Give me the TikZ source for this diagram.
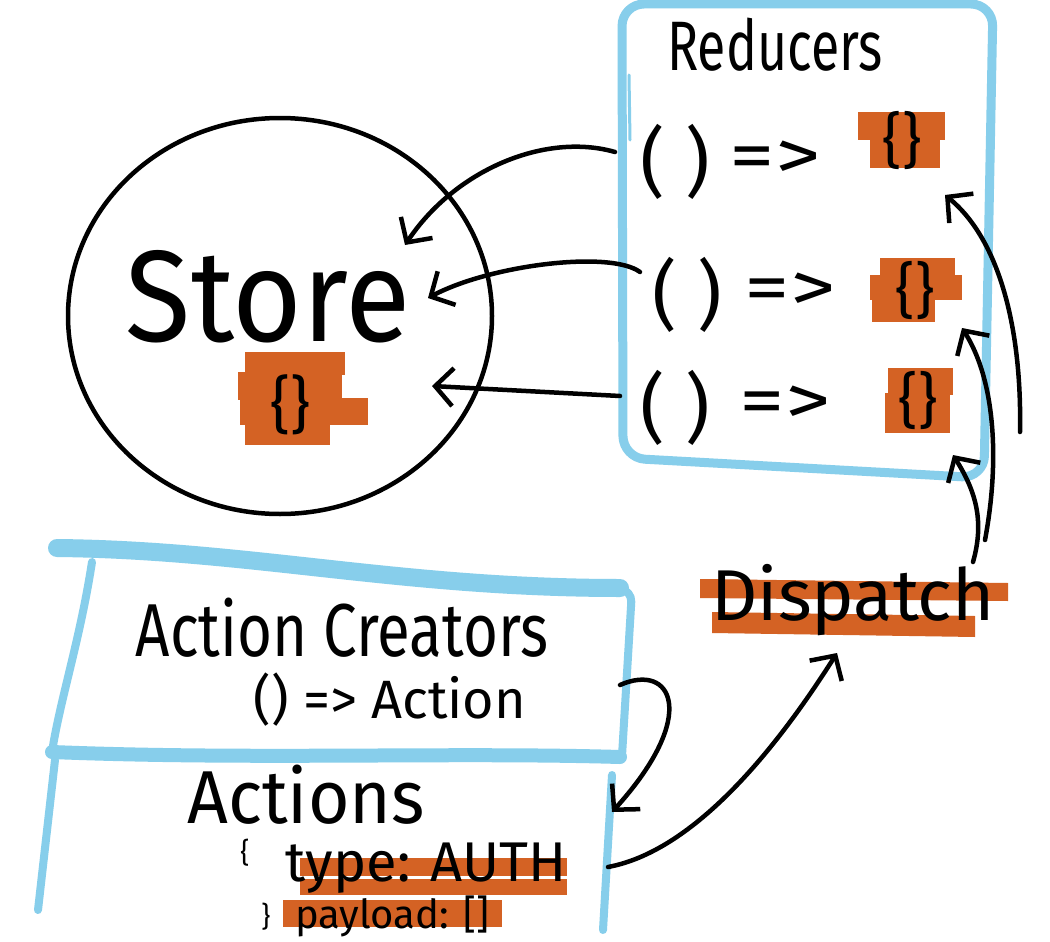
\documentclass[tikz,border=0pt]{standalone}
\usepackage{fontspec}
\setmainfont{Fira Sans}
\usetikzlibrary{arrows.meta,shapes.geometric}
\definecolor{skyb}{RGB}{135,206,235}
\definecolor{rust}{RGB}{212,98,36}
\begin{document}
\begin{tikzpicture}[x=1pt,y=-1pt,
  ink/.style={draw=black,line width=4.5pt,line cap=round,line join=round},
  arr/.style={ink,-{Straight Barb[length=18pt,width=38pt]}},
  bluel/.style={draw=skyb,line cap=round,line join=round},
  blob/.style={fill=rust},
  lbl/.style={inner sep=0pt,text=black},
  fs/.style={font=\fontsize{#1}{#1}\selectfont}
]
\useasboundingbox[fill=white] (0,0) rectangle (1050,942);

% ---------- Store ----------
\node[ellipse,draw,line width=4.5pt,minimum width=424pt,minimum height=396pt] (store) at (280,316) {};
\node[lbl,fs=130] (storetxt) at (268,297) {\scalebox{0.92}[1]{Store}};
\fill[blob] (245,352) rectangle (345,375);
\fill[blob] (238,372) rectangle (342,400);
\fill[blob] (240,398) rectangle (368,425);
\fill[blob] (245,420) rectangle (330,445);
\node[lbl,fs=62] (storeblob) at (290,405) {\{\}};

% ---------- Reducers ----------
\draw[bluel,line width=9pt,rounded corners=22pt] (622,4) -- (623,458) -- (984,478) -- (993,4) -- cycle;
\draw[bluel,line width=3pt] (629,75) -- (630,140);
\node[lbl,fs=70] (redtitle) at (775,45) {\scalebox{0.74}[1]{Reducers}};

\fill[blob] (858,112) rectangle (945,140);
\fill[blob] (870,138) rectangle (940,168);
\fill[blob] (880,258) rectangle (955,280);
\fill[blob] (870,275) rectangle (962,300);
\fill[blob] (872,298) rectangle (935,322);
\fill[blob] (888,368) rectangle (953,395);
\fill[blob] (885,393) rectangle (950,433);

\node[lbl,fs=76] (r1p) at (675,162) {( )};
\node[lbl,fs=70] (r1a) at (775,160) {\scalebox{1.3}[1]{=>}};
\node[lbl,fs=60] (r1b) at (902,140) {\{\}};
\node[lbl,fs=76] (r2p) at (687,295) {( )};
\node[lbl,fs=70] (r2a) at (790,292) {\scalebox{1.3}[1]{=>}};
\node[lbl,fs=60] (r2b) at (915,290) {\{\}};
\node[lbl,fs=76] (r3p) at (675,408) {( )};
\node[lbl,fs=70] (r3a) at (785,405) {\scalebox{1.3}[1]{=>}};
\node[lbl,fs=60] (r3b) at (918,400) {\{\}};

% ---------- Dispatch ----------
\fill[blob] (700,579) -- (1008,583) -- (1008,601) -- (700,598) -- cycle;
\fill[blob] (712,612) -- (975,616) -- (975,637) -- (712,633) -- cycle;
\node[lbl,fs=72] (disp) at (853,600) {Dispatch};

% ---------- Action Creators box ----------
\draw[bluel,line width=18pt] (57,548) .. controls (250,550) and (400,588) .. (620,588);
\draw[bluel,line width=8pt,rounded corners=12pt] (612,588) -- (632,590) -- (622,756);
\draw[bluel,line width=8pt] (92,562) .. controls (80,640) and (60,700) .. (52,752);
\draw[bluel,line width=14pt] (52,752) .. controls (250,760) and (450,752) .. (620,757);
\draw[bluel,line width=8pt] (55,760) -- (38,910);
\draw[bluel,line width=8pt] (612,775) -- (603,930);
\node[lbl,fs=75] (actcr) at (342,628) {\scalebox{0.8}[1]{Action Creators}};
\node[lbl,fs=54] (actfn) at (390,700) {() => Action};

% ---------- Actions ----------
\node[lbl,fs=75] (actions) at (306,795) {\scalebox{0.95}[1]{Actions}};
\fill[blob] (300,858) rectangle (567,876);
\fill[blob] (300,879) rectangle (567,895);
\fill[blob] (283,900) rectangle (502,927);
\node[lbl,fs=28] (lbrace) at (245,853) {\{};
\node[lbl,fs=56] (atype) at (426,868) {type: AUTH};
\node[lbl,fs=28] (rbrace) at (266,917) {\}};
\node[lbl,fs=40] (apay) at (392,916) {payload: []};

% ---------- Connectors ----------
\coordinate (a1s) at (615,152); \coordinate (a1e) at (405,245);
\coordinate (a2s) at (640,272); \coordinate (a2e) at (428,298);
\coordinate (a3s) at (620,396); \coordinate (a3e) at (432,386);
\draw[arr] (a1s) .. controls (545,132) and (455,170) .. (a1e);
\draw[arr] (a2s) .. controls (610,250) and (490,265) .. (a2e);
\draw[arr] (a3s) -- (a3e);

\coordinate (d1s) at (1020,432); \coordinate (d1e) at (945,195);
\coordinate (d2s) at (985,540); \coordinate (d2e) at (962,328);
\coordinate (d3s) at (973,562); \coordinate (d3e) at (953,455);
\draw[arr] (d1s) .. controls (1022,330) and (1000,240) .. (d1e);
\draw[arr] (d2s) .. controls (1000,460) and (995,380) .. (d2e);
\draw[arr] (d3s) .. controls (985,520) and (975,490) .. (d3e);

\coordinate (es) at (620,685); \coordinate (ee) at (612,812);
\draw[arr] (es) .. controls (672,662) and (700,715) .. (ee);
\coordinate (fs) at (608,867); \coordinate (fe) at (837,653);
\draw[arr] (fs) .. controls (700,850) and (785,735) .. (fe);
\end{tikzpicture}
\end{document}
